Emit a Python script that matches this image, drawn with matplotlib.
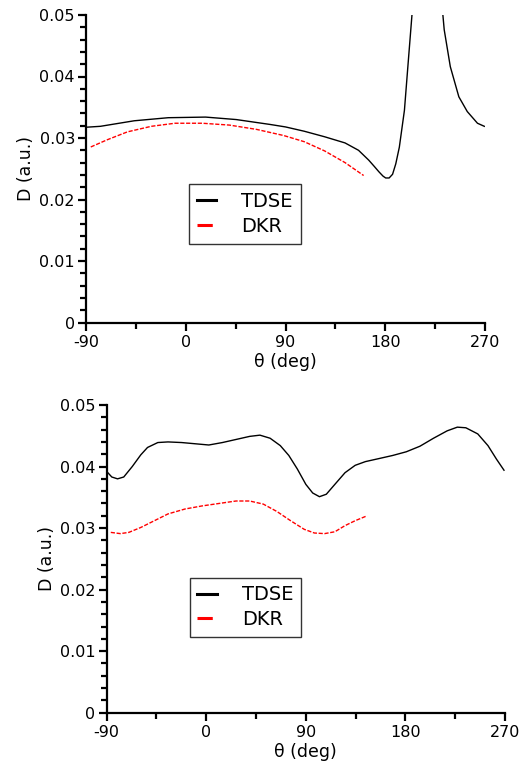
import matplotlib
matplotlib.use("Agg")
import matplotlib.pyplot as plt
from matplotlib.ticker import MultipleLocator, FuncFormatter

plt.rcParams["axes.unicode_minus"] = False

# top panel
top_tdse_theta = [-90, -77, -46.5, -15.8, 17.9, 45.5, 76.2, 90, 106.9, 125.3, 143.7,
                  155.9, 165.1, 170, 174.3, 178, 180.4, 183.5, 186.6, 189.5, 192.7, 197.3,
                  200.4, 204.1, 210, 218, 226, 232.0, 233.2, 238.7, 246.4, 254.0, 263.2,
                  269.4]
top_tdse_d = [0.03175, 0.0319, 0.0328, 0.0333, 0.0334, 0.0330, 0.0322, 0.0318, 0.0311,
              0.0302, 0.0292, 0.0280, 0.0264, 0.0254, 0.0245, 0.0238, 0.0235, 0.0235,
              0.0241, 0.0258, 0.0285, 0.0345, 0.0416, 0.0500, 0.060, 0.068, 0.060,
              0.0500, 0.0476, 0.0416, 0.0367, 0.0343, 0.0324, 0.0319]
top_dkr_theta = [-85.7, -71, -52.6, -31.1, -9.7, 14.9, 39.4, 63.9, 88.4, 106.9, 125.3,
                 143.7, 160.5]
top_dkr_d = [0.02854, 0.0297, 0.0310, 0.0319, 0.0324, 0.0324, 0.0321, 0.0314, 0.0304,
             0.0294, 0.0279, 0.0260, 0.0239]

# bottom panel
bot_tdse_theta = [-90, -85.4, -80.2, -74.6, -66.9, -59.2, -53.1, -43.8, -34.6, -22.3,
                  -10, 2.3, 14.6, 26.9, 39.2, 48.5, 57.7, 66.9, 74.6, 82.3, 90, 96.2,
                  102.3, 108.5, 116.2, 125.4, 134.6, 143.8, 156.2, 168.5, 180.8, 193.1,
                  205.4, 217.7, 226.9, 234.6, 245.4, 254.6, 262.3, 269.1]
bot_tdse_d = [0.0392, 0.0383, 0.0380, 0.0383, 0.0400, 0.0419, 0.0431, 0.0439, 0.0440,
              0.0439, 0.0437, 0.0435, 0.0439, 0.0444, 0.0449, 0.0451, 0.0446, 0.0434,
              0.0418, 0.0396, 0.0371, 0.0357, 0.0351, 0.0355, 0.0371, 0.0390, 0.0402,
              0.0408, 0.0413, 0.0418, 0.0424, 0.0433, 0.0446, 0.0458, 0.0464, 0.0463,
              0.0453, 0.0434, 0.0412, 0.0394]
bot_dkr_theta = [-86.3, -77.7, -70, -59.2, -46.9, -34.6, -19.2, -3.8, 11.5, 26.9, 39.2,
                 51.5, 63.8, 76.2, 88.5, 97.7, 106.9, 116.2, 125.4, 134.6, 145.4]
bot_dkr_d = [0.0293, 0.0291, 0.0293, 0.0301, 0.0312, 0.0323, 0.0331, 0.0336, 0.0340,
             0.0344, 0.0344, 0.0339, 0.0327, 0.0312, 0.0298, 0.0292, 0.0291, 0.0294,
             0.0304, 0.0312, 0.0320]

W, H = 531, 769
fig = plt.figure(figsize=(W / 100, H / 100), dpi=100)


def frac(l, t, r, b):
    return [l / W, 1 - b / H, (r - l) / W, (b - t) / H]


panels = [
    (frac(86, 15, 485, 322.5), top_tdse_theta, top_tdse_d, top_dkr_theta, top_dkr_d, (0.258, 0.450)),
    (frac(106.7, 405, 505, 712.7), bot_tdse_theta, bot_tdse_d, bot_dkr_theta, bot_dkr_d, (0.208, 0.439)),
]

for rect, tt, td, dt, dd, leg_xy in panels:
    ax = fig.add_axes(rect)
    ax.plot(tt, td, color="black", lw=1.0, label="TDSE")
    ax.plot(dt, dd, color="red", lw=1.0, dashes=(3, 1.2), label="DKR")
    ax.set_xlim(-90, 270)
    ax.set_ylim(0, 0.05)
    ax.xaxis.set_major_locator(MultipleLocator(90))
    ax.xaxis.set_minor_locator(MultipleLocator(45))
    ax.yaxis.set_major_locator(MultipleLocator(0.01))
    ax.yaxis.set_minor_locator(MultipleLocator(0.002))
    ax.yaxis.set_major_formatter(FuncFormatter(lambda v, p: "0" if abs(v) < 1e-9 else f"{v:.2f}"))
    for s in ("top", "right"):
        ax.spines[s].set_visible(False)
    for s in ("left", "bottom"):
        ax.spines[s].set_linewidth(1.6)
    ax.tick_params(which="major", direction="out", length=6, width=1.6, labelsize=11.5, pad=2)
    ax.tick_params(which="minor", direction="out", length=4, width=1.6)
    ax.tick_params(axis="x", which="major", pad=3)
    ax.set_xlabel("θ (deg)", fontsize=12.5, labelpad=2)
    ax.set_ylabel("D (a.u.)", fontsize=12.5, labelpad=3)
    leg = ax.legend(loc="upper left", bbox_to_anchor=leg_xy, borderaxespad=0,
                    fontsize=14, frameon=True, fancybox=False, edgecolor="black",
                    handlelength=1.0, handletextpad=1.3, borderpad=0.4, labelspacing=0.3)
    leg.get_frame().set_linewidth(1.0)
    hl = leg.get_lines()
    hl[0].set_linewidth(2.2)
    hl[1].set_linewidth(2.2)
    hl[1].set_dashes((5, 10))

fig.savefig("out.png", dpi=100)
